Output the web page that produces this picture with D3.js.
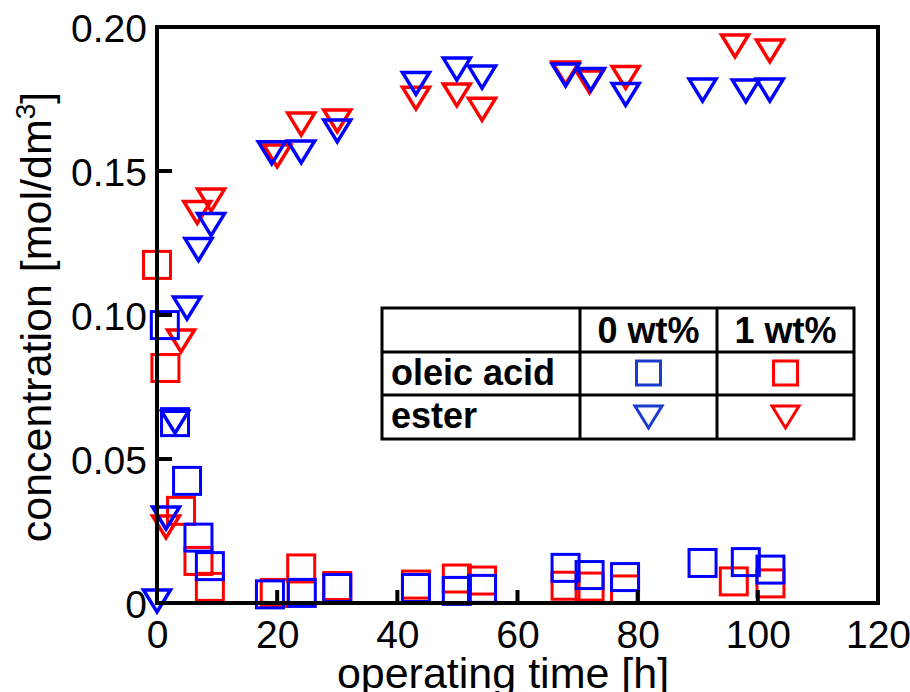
<!DOCTYPE html>
<html><head><meta charset="utf-8">
<script src="https://cdn.jsdelivr.net/npm/d3@7"></script>
<style>
html,body{margin:0;padding:0;background:#fff;}
svg{display:block;font-family:"Liberation Sans",Arial,sans-serif;}
</style></head>
<body>
<svg id="c" width="910" height="692"></svg>
<script>
// ---- data ----
const xTicks = [0, 20, 40, 60, 80, 100, 120];
const yTicks = [0, 0.05, 0.10, 0.15, 0.20];
const yTickLabels = ["0", "0.05", "0.10", "0.15", "0.20"];

const acid0Time = [1.3, 3.0, 5.0, 6.9, 8.8, 18.8, 24.1, 30.0, 43.1, 49.9, 54.1, 68.0, 72.0, 77.9, 90.8, 98.0, 102.1];
const acid0Conc = [0.0965, 0.0628, 0.0424, 0.0227, 0.0128, 0.0030, 0.0035, 0.0052, 0.0052, 0.0042, 0.0049, 0.0122, 0.0097, 0.0090, 0.0139, 0.0142, 0.0116];

const acid1Time = [0, 1.4, 4.0, 6.9, 8.8, 19.6, 24.0, 30.0, 43.1, 49.9, 54.1, 68.0, 72.0, 77.9, 96.0, 102.1];
const acid1Conc = [0.1174, 0.0816, 0.0320, 0.0146, 0.0056, 0.0035, 0.0120, 0.0059, 0.0064, 0.0085, 0.0078, 0.0060, 0.0057, 0.0047, 0.0075, 0.0068];

const ester0Time = [0, 1.5, 3.0, 5.0, 6.9, 9.0, 19.1, 24.0, 30.0, 43.1, 49.9, 54.1, 68.0, 72.2, 78.0, 90.8, 98.0, 102.0];
const ester0Conc = [0.0007, 0.0295, 0.0628, 0.1024, 0.1227, 0.1314, 0.1563, 0.1566, 0.1639, 0.1804, 0.1854, 0.1826, 0.1833, 0.1818, 0.1766, 0.1781, 0.1778, 0.1781];

const ester1Time = [1.5, 4.0, 6.7, 9.0, 20.0, 24.0, 30.0, 43.1, 49.9, 54.1, 68.0, 72.0, 78.0, 96.2, 102.0];
const ester1Conc = [0.0264, 0.0910, 0.1356, 0.1399, 0.1552, 0.1663, 0.1674, 0.1753, 0.1764, 0.1714, 0.1840, 0.1809, 0.1825, 0.1934, 0.1917];

const legendCols = ["0 wt%", "1 wt%"];
const legendRows = ["oleic acid", "ester"];

// ---- layout ----
const svg = d3.select("#c");
const L = 157, R = 878, T = 27, B = 603;
const x = d3.scaleLinear().domain([0, 120]).range([L, R]);
const y = d3.scaleLinear().domain([0, 0.2]).range([B, T]);
const BLUE = "#0000ff", RED = "#ff0000";

const zip = (a, b) => a.map((v, i) => [v, b[i]]);

const sq = 27, triW = 27, triH = 22;
function drawSquares(data, color) {
  svg.append("g").selectAll("rect").data(data).join("rect")
    .attr("x", d => x(d[0]) - sq / 2).attr("y", d => y(d[1]) - sq / 2)
    .attr("width", sq).attr("height", sq)
    .attr("fill", "none").attr("stroke", color).attr("stroke-width", 3);
}
const triPath = `M${-triW/2},${-triH/2}L${triW/2},${-triH/2}L0,${triH/2}Z`;
function drawTris(data, color) {
  svg.append("g").selectAll("path").data(data).join("path")
    .attr("d", triPath)
    .attr("transform", d => `translate(${x(d[0])},${y(d[1])})`)
    .attr("fill", "none").attr("stroke", color).attr("stroke-width", 3.5);
}

drawSquares(zip(acid1Time, acid1Conc), RED);
drawTris(zip(ester1Time, ester1Conc), RED);
drawSquares(zip(acid0Time, acid0Conc), BLUE);
drawTris(zip(ester0Time, ester0Conc), BLUE);

// ---- axes / frame ----
const axG = svg.append("g");
axG.append("g").attr("transform", `translate(0,${B})`)
  .call(d3.axisBottom(x).tickValues(xTicks).tickSize(0).tickFormat(d3.format("d")))
  .call(g => g.select(".domain").remove())
  .call(g => g.selectAll("text").attr("font-size", 39).attr("fill", "#000")
      .attr("font-family", "Liberation Sans, Arial, sans-serif").attr("dy", null).attr("y", 45));
axG.selectAll(".xt").data(xTicks.filter(d => d > 0 && d < 120)).join("line")
  .attr("x1", d => x(d)).attr("x2", d => x(d)).attr("y1", B).attr("y2", B - 13)
  .attr("stroke", "#000").attr("stroke-width", 4);

axG.append("g").attr("transform", `translate(${L},0)`)
  .call(d3.axisLeft(y).tickValues(yTicks).tickSize(0).tickFormat((d, i) => yTickLabels[i]))
  .call(g => g.select(".domain").remove())
  .call(g => g.selectAll("text").attr("font-size", 39).attr("fill", "#000")
      .attr("font-family", "Liberation Sans, Arial, sans-serif").attr("x", -10).attr("dy", "0.36em"));
axG.selectAll(".yt").data(yTicks.filter(d => d > 0 && d < 0.2)).join("line")
  .attr("x1", L).attr("x2", L + 15).attr("y1", d => y(d)).attr("y2", d => y(d))
  .attr("stroke", "#000").attr("stroke-width", 4);

svg.append("rect").attr("x", L).attr("y", T).attr("width", R - L).attr("height", B - T)
  .attr("fill", "none").attr("stroke", "#000").attr("stroke-width", 4);

// axis titles
const yl = svg.append("text").attr("transform", "translate(51,317) rotate(-90)")
  .attr("text-anchor", "middle").attr("font-size", 43).attr("fill", "#000");
yl.append("tspan").text("concentration [mol/dm");
yl.append("tspan").attr("font-size", 28).attr("dy", -16).text("3");
yl.append("tspan").attr("dy", 16).text("]");

svg.append("text").attr("x", 503).attr("y", 688).attr("text-anchor", "middle")
  .attr("font-size", 43).attr("fill", "#000").text("operating time [h]");

// ---- legend table ----
const lg = svg.append("g");
const tx0 = 382, tx1 = 580, tx2 = 717, tx3 = 854;
const ty0 = 308, ty1 = 352, ty2 = 395, ty3 = 439;
lg.append("rect").attr("x", tx0).attr("y", ty0).attr("width", tx3 - tx0).attr("height", ty3 - ty0)
  .attr("fill", "#fff").attr("stroke", "#000").attr("stroke-width", 3);
[[tx1, ty0, tx1, ty3], [tx2, ty0, tx2, ty3], [tx0, ty1, tx3, ty1], [tx0, ty2, tx3, ty2]].forEach(l =>
  lg.append("line").attr("x1", l[0]).attr("y1", l[1]).attr("x2", l[2]).attr("y2", l[3])
    .attr("stroke", "#000").attr("stroke-width", 3));
const colC = [(tx1 + tx2) / 2, (tx2 + tx3) / 2];
legendCols.forEach((t, i) => lg.append("text").attr("x", colC[i]).attr("y", 343)
  .attr("text-anchor", "middle").attr("font-weight", "bold").attr("font-size", 36).text(t));
const rowBase = [385, 428];
legendRows.forEach((t, i) => lg.append("text").attr("x", 391).attr("y", rowBase[i])
  .attr("font-weight", "bold").attr("font-size", 36).text(t));
const lgBlue = "#1a3ccc";
lg.append("rect").attr("x", colC[0] - 12).attr("y", 361).attr("width", 24).attr("height", 24)
  .attr("fill", "none").attr("stroke", lgBlue).attr("stroke-width", 3);
lg.append("rect").attr("x", colC[1] - 12).attr("y", 361).attr("width", 24).attr("height", 24)
  .attr("fill", "none").attr("stroke", RED).attr("stroke-width", 3);
lg.append("path").attr("d", triPath).attr("transform", `translate(${colC[0]},417)`)
  .attr("fill", "none").attr("stroke", lgBlue).attr("stroke-width", 3);
lg.append("path").attr("d", triPath).attr("transform", `translate(${colC[1]},417)`)
  .attr("fill", "none").attr("stroke", RED).attr("stroke-width", 3);
</script>
</body></html>
